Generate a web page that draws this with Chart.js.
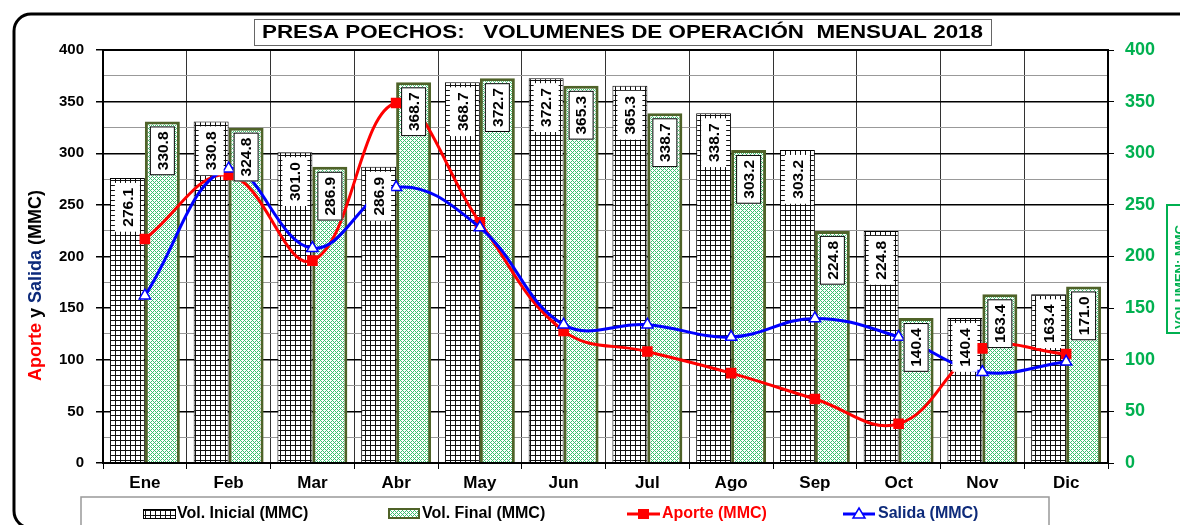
<!DOCTYPE html>
<html>
<head>
<meta charset="utf-8">
<script src="https://cdn.jsdelivr.net/npm/chart.js@4.4.1/dist/chart.umd.min.js"></script>
<style>
  body { margin: 0; background: #fff; }
  #wrap { width: 1180px; height: 525px; }
</style>
</head>
<body>
<div id="wrap"><canvas id="chart" width="1180" height="525"></canvas></div>
<script>
const meses = ['Ene', 'Feb', 'Mar', 'Abr', 'May', 'Jun', 'Jul', 'Ago', 'Sep', 'Oct', 'Nov', 'Dic'];
const volInicial = [276.1, 330.8, 301.0, 286.9, 368.7, 372.7, 365.3, 338.7, 303.2, 224.8, 140.4, 163.4];
const volFinal = [330.8, 324.8, 286.9, 368.7, 372.7, 365.3, 338.7, 303.2, 224.8, 140.4, 163.4, 171.0];
const aporte = [217, 279, 196, 348.7, 233, 128, 108, 87, 62, 38, 111, 105.5];
const salida = [162, 285, 208, 267, 228, 134, 134, 122, 140, 122, 88, 98];

const FONT = '"Liberation Sans", Arial, sans-serif';
const VERDE = '#00b050';
const OLIVA = '#4f6228';
const NAVY = '#0d2a7a';

// pattern fills, like the Excel hatches
function gridPattern() {
    const c = document.createElement('canvas');
    c.width = 5; c.height = 5;
    const g = c.getContext('2d');
    g.fillStyle = '#fff';
    g.fillRect(0, 0, 5, 5);
    g.fillStyle = '#111';
    g.fillRect(0, 0, 5, 1);
    g.fillRect(0, 0, 1, 5);
    return g.createPattern(c, 'repeat');
}
function greenPattern() {
    const c = document.createElement('canvas');
    c.width = 4; c.height = 4;
    const g = c.getContext('2d');
    g.fillStyle = '#fff';
    g.fillRect(0, 0, 4, 4);
    g.fillStyle = '#3cc070';
    for (let x = 0; x < 4; x++) {
        for (let y = 0; y < 4; y++) {
            if ((x + y) % 4 === 0 || (x - y + 4) % 4 === 0) g.fillRect(x, y, 1, 1);
        }
    }
    return g.createPattern(c, 'repeat');
}
const patInicial = gridPattern();
const patFinal = greenPattern();

// value labels inside bar tops (rotated)
const barLabels = {
    id: 'barLabels',
    afterDatasetsDraw(chart) {
        const ctx = chart.ctx;
        const a = chart.chartArea;
        ctx.save();
        ctx.strokeStyle = '#000';
        ctx.lineWidth = 2;
        ctx.strokeRect(a.left, a.top, a.right - a.left, a.bottom - a.top);
        ctx.font = 'bold 15.5px ' + FONT;
        chart.data.datasets.forEach((ds, i) => {
            if (ds.type !== 'bar') return;
            const meta = chart.getDatasetMeta(i);
            meta.data.forEach((el, j) => {
                const txt = ds.data[j].toFixed(1);
                const w = ctx.measureText(txt).width;
                const bh = w + 10, bw = 25;
                const top = el.y + 5;
                ctx.fillStyle = '#fff';
                ctx.fillRect(el.x - bw / 2, top, bw, bh);
                if (ds.label.indexOf('Final') >= 0) {
                    ctx.lineWidth = 1;
                    ctx.strokeStyle = '#000';
                    ctx.strokeRect(el.x - bw / 2 + 0.5, top + 0.5, bw - 1, bh - 1);
                }
                ctx.save();
                ctx.translate(el.x, top + bh / 2);
                ctx.rotate(-Math.PI / 2);
                ctx.fillStyle = '#000';
                ctx.textAlign = 'center';
                ctx.textBaseline = 'middle';
                ctx.fillText(txt, 0, 1);
                ctx.restore();
            });
        });
        ctx.restore();
    }
};

// frame, title, axis titles, legend
const decor = {
    id: 'decor',
    beforeDraw(chart) {
        const ctx = chart.ctx;
        ctx.save();
        ctx.fillStyle = '#fff';
        ctx.fillRect(0, 0, chart.width, chart.height);
        ctx.restore();
    },
    afterDraw(chart) {
        const ctx = chart.ctx;
        ctx.save();

        // rounded outer frame, runs past the right edge
        ctx.lineWidth = 3;
        ctx.strokeStyle = '#000';
        ctx.beginPath();
        ctx.roundRect(14, 14, 1240, 514, 17);
        ctx.stroke();

        // title
        ctx.fillStyle = '#fff';
        ctx.fillRect(254, 19, 737, 26);
        ctx.lineWidth = 1;
        ctx.strokeStyle = '#666';
        ctx.strokeRect(254.5, 19.5, 737, 26);
        const titulo = 'PRESA POECHOS:   VOLUMENES DE OPERACIÓN  MENSUAL 2018';
        ctx.font = 'bold 18px ' + FONT;
        const tw = ctx.measureText(titulo).width;
        ctx.save();
        ctx.translate(622.5, 33);
        ctx.scale(721 / tw, 1);
        ctx.fillStyle = '#000';
        ctx.textAlign = 'center';
        ctx.textBaseline = 'middle';
        ctx.fillText(titulo, 0, 0);
        ctx.restore();

        // left axis title, multi-colour
        ctx.save();
        ctx.translate(36, 381);
        ctx.rotate(-Math.PI / 2);
        ctx.font = 'bold 18px ' + FONT;
        ctx.textBaseline = 'middle';
        let x = 0;
        [['Aporte', '#ff0000'], [' y ', '#000'], ['Salida', NAVY], [' (MMC)', '#000']].forEach(p => {
            ctx.fillStyle = p[1];
            ctx.fillText(p[0], x, 0);
            x += ctx.measureText(p[0]).width;
        });
        ctx.restore();

        // right axis title (cut by the edge)
        ctx.lineWidth = 2;
        ctx.strokeStyle = VERDE;
        ctx.strokeRect(1167, 205, 24, 128);
        ctx.save();
        ctx.translate(1180, 329);
        ctx.rotate(-Math.PI / 2);
        ctx.font = 'bold 13px ' + FONT;
        ctx.fillStyle = VERDE;
        ctx.textBaseline = 'middle';
        ctx.fillText('VOLUMEN: MMC', 0, 0);
        ctx.restore();

        // legend
        ctx.lineWidth = 1.5;
        ctx.strokeStyle = '#999';
        ctx.strokeRect(81, 497, 968, 40);
        const ly = 514;
        ctx.font = 'bold 16px ' + FONT;
        ctx.textBaseline = 'middle';

        ctx.fillStyle = patInicial;
        ctx.fillRect(143, 509, 32, 9);
        ctx.lineWidth = 1;
        ctx.strokeStyle = '#000';
        ctx.strokeRect(143.5, 509.5, 32, 9);
        ctx.fillStyle = '#000';
        ctx.fillText('Vol. Inicial (MMC)', 177, ly);

        ctx.fillStyle = patFinal;
        ctx.fillRect(388, 508, 32, 10);
        ctx.lineWidth = 2;
        ctx.strokeStyle = OLIVA;
        ctx.strokeRect(389, 509, 30, 9);
        ctx.fillStyle = '#000';
        ctx.fillText('Vol. Final (MMC)', 422, ly);

        ctx.lineWidth = 3;
        ctx.strokeStyle = '#ff0000';
        ctx.beginPath();
        ctx.moveTo(627, ly); ctx.lineTo(660, ly);
        ctx.stroke();
        ctx.fillStyle = '#ff0000';
        ctx.fillRect(638, ly - 5, 11, 10);
        ctx.fillText('Aporte (MMC)', 662, ly);

        ctx.strokeStyle = '#0000ff';
        ctx.lineWidth = 3;
        ctx.beginPath();
        ctx.moveTo(843, ly); ctx.lineTo(875, ly);
        ctx.stroke();
        ctx.beginPath();
        ctx.moveTo(859, ly - 6); ctx.lineTo(865, ly + 4); ctx.lineTo(853, ly + 4); ctx.closePath();
        ctx.fillStyle = '#fff';
        ctx.fill();
        ctx.lineWidth = 1.5;
        ctx.stroke();
        ctx.fillStyle = NAVY;
        ctx.fillText('Salida (MMC)', 878, ly);

        ctx.restore();
    }
};

const ctx = document.getElementById('chart').getContext('2d');
const chart = new Chart(ctx, {
    data: {
        labels: meses,
        datasets: [
            {
                type: 'line',
                label: 'Salida (MMC)',
                data: salida,
                yAxisID: 'y',
                order: 0,
                borderColor: '#0000ff',
                borderWidth: 3,
                tension: 0.4,
                pointStyle: 'triangle',
                pointRadius: 6.5,
                pointBorderWidth: 1.5,
                pointBackgroundColor: '#fff',
                pointBorderColor: '#0000ff'
            },
            {
                type: 'line',
                label: 'Aporte (MMC)',
                data: aporte,
                yAxisID: 'y',
                order: 1,
                borderColor: '#ff0000',
                borderWidth: 3,
                tension: 0.4,
                pointStyle: 'rect',
                pointRadius: 7.5,
                pointBorderWidth: 0,
                pointBackgroundColor: '#ff0000',
                pointBorderColor: '#ff0000'
            },
            {
                type: 'bar',
                label: 'Vol. Inicial (MMC)',
                data: volInicial,
                yAxisID: 'y1',
                order: 2,
                backgroundColor: patInicial,
                borderColor: '#000',
                borderWidth: 1,
                barPercentage: 1,
                categoryPercentage: 0.835
            },
            {
                type: 'bar',
                label: 'Vol. Final (MMC)',
                data: volFinal,
                yAxisID: 'y1',
                order: 2,
                backgroundColor: patFinal,
                borderColor: OLIVA,
                borderWidth: 3,
                barPercentage: 1,
                categoryPercentage: 0.835
            }
        ]
    },
    options: {
        responsive: false,
        animation: false,
        layout: { padding: { top: 50, left: 0, right: 0, bottom: 0 } },
        plugins: {
            legend: { display: false },
            title: { display: false },
            tooltip: { enabled: false }
        },
        scales: {
            x: {
                offset: true,
                grid: { offset: true, color: '#333', lineWidth: 1, tickLength: 6, tickColor: '#000' },
                border: { color: '#000', width: 2 },
                ticks: { color: '#000', font: { family: FONT, size: 17, weight: 'bold' }, padding: 4 },
                afterFit(s) { s.height = 62; }
            },
            y: {
                position: 'left',
                min: 0,
                max: 400,
                grid: {
                    color: c => c.tick && c.tick.value % 50 === 0 ? '#000' : '#999',
                    lineWidth: c => c.tick && c.tick.value % 50 === 0 ? 1.5 : 1,
                    tickColor: c => c.tick && c.tick.value % 50 === 0 ? '#000' : 'rgba(0,0,0,0)',
                    tickLength: 7
                },
                border: { color: '#000', width: 2 },
                ticks: {
                    stepSize: 25,
                    autoSkip: false,
                    color: '#000',
                    padding: 12,
                    font: { family: FONT, size: 15, weight: 'bold' },
                    callback: v => v % 50 === 0 ? v : ''
                },
                afterFit(s) { s.width = 103; }
            },
            y1: {
                position: 'right',
                min: 0,
                max: 400,
                grid: { drawOnChartArea: false, tickLength: 6, tickColor: '#000' },
                border: { color: '#000', width: 2 },
                ticks: {
                    stepSize: 50,
                    color: VERDE,
                    padding: 11,
                    font: { family: FONT, size: 18, weight: 'bold' }
                },
                afterFit(s) { s.width = 72; }
            }
        }
    },
    plugins: [decor, barLabels]
});
</script>
</body>
</html>
